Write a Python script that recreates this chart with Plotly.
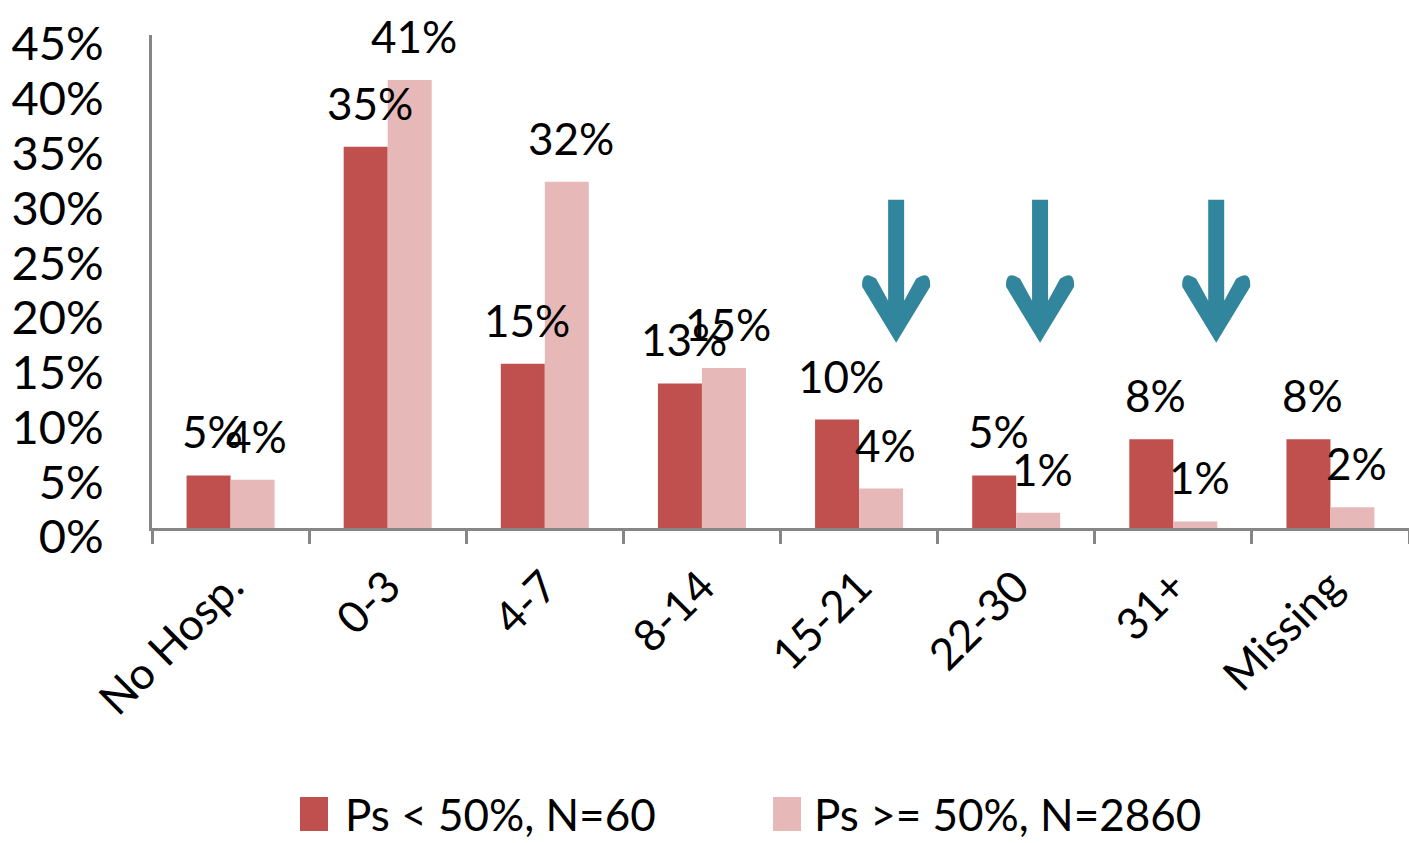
import plotly.graph_objects as go

# Length-of-stay groups (days) and share of patients in each group, in percent
categories = ["No Hosp.", "0-3", "4-7", "8-14", "15-21", "22-30", "31+", "Missing"]
low_ps = [4.8, 34.8, 15.0, 13.2, 9.9, 4.8, 8.1, 8.1]
high_ps = [4.4, 40.9, 31.6, 14.6, 3.6, 1.4, 0.6, 1.9]
series_names = ["Ps < 50%, N=60", "Ps >= 50%, N=2860"]
y_tick_values = [0, 5, 10, 15, 20, 25, 30, 35, 40, 45]

# styling
colors = ["#C0504D", "#E6B9B8"]
axis_color = "#868686"
arrow_color = "#31859C"
font_family = "Lato"

# pixel geometry of the plotting area (used to place the hand-made legend)
M_L, M_R, M_T, M_B = 152, 0, 35, 315
W, H = 1409, 843
plot_w = W - M_L - M_R
plot_h = H - M_T - M_B


def paper_x(px):
    return (px - M_L) / plot_w


def paper_y(py):
    return (H - M_B - py) / plot_h


series = [low_ps, high_ps]
fig = go.Figure()
for name, vals, col in zip(series_names, series, colors):
    fig.add_trace(go.Bar(x=categories, y=vals, name=name, marker_color=col,
                         marker_line_width=0, showlegend=False))

annotations = []
bar_offsets = [-0.14, 0.14]
for vals, off in zip(series, bar_offsets):
    for i, v in enumerate(vals):
        annotations.append(dict(
            x=i + off, y=v, xref="x", yref="y", text=f"{round(v)}%",
            showarrow=False, yanchor="middle", xanchor="center",
            yshift=44, xshift=4,
            font=dict(family=font_family, size=44, color="#000000"),
        ))

shapes = []
# down arrows pointing at the longer-stay groups
arrow_path = ("M0,0 L-34,56 Q-34.8,74 -20,64 L-8,42 L-8,143 L8,143 "
              "L8,42 L20,64 Q34.8,74 34,56 Z")
for xa in [4.236, 5.152, 6.273]:
    shapes.append(dict(
        type="path", xref="x", yref="y", xsizemode="pixel", ysizemode="pixel",
        xanchor=xa, yanchor=16.9, path=arrow_path,
        fillcolor=arrow_color, line=dict(width=0), layer="above",
    ))

# legend drawn with large square swatches
legend_items = [(314, 343), (787, 812)]
for (sq_x, txt_x), name, col in zip(legend_items, series_names, colors):
    shapes.append(dict(
        type="rect", xref="paper", yref="paper", xsizemode="pixel", ysizemode="pixel",
        xanchor=paper_x(sq_x), yanchor=paper_y(814), x0=-14, x1=14, y0=-17, y1=17,
        fillcolor=col, line=dict(width=0),
    ))
    annotations.append(dict(
        x=paper_x(txt_x), y=paper_y(814), xref="paper", yref="paper", text=name,
        showarrow=False, xanchor="left", yanchor="middle",
        font=dict(family=font_family, size=44, color="#000000"),
    ))

fig.update_layout(
    width=W, height=H,
    margin=dict(l=M_L, r=M_R, t=M_T, b=M_B, pad=0),
    paper_bgcolor="white", plot_bgcolor="white",
    barmode="group", bargap=0.44, bargroupgap=0,
    font=dict(family=font_family, color="#000000"),
    annotations=annotations, shapes=shapes,
    showlegend=False,
)
fig.update_xaxes(
    type="category", showline=True, linecolor=axis_color, linewidth=3,
    ticks="outside", tickson="boundaries", ticklen=13, tickwidth=3, tickcolor=axis_color,
    tickangle=-45, tickfont=dict(family=font_family, size=44, color="#000000"),
    ticklabelstandoff=12,
    showgrid=False, zeroline=False,
)
fig.update_yaxes(
    range=[0, 45], tickvals=y_tick_values, ticktext=[f"{t}%" for t in y_tick_values],
    showline=True, linecolor=axis_color, linewidth=3, ticks="",
    showgrid=False, zeroline=False, ticklabelstandoff=36, ticklabelshift=9,
    tickfont=dict(family=font_family, size=47, color="#000000"),
)

fig.write_html("out.html")
